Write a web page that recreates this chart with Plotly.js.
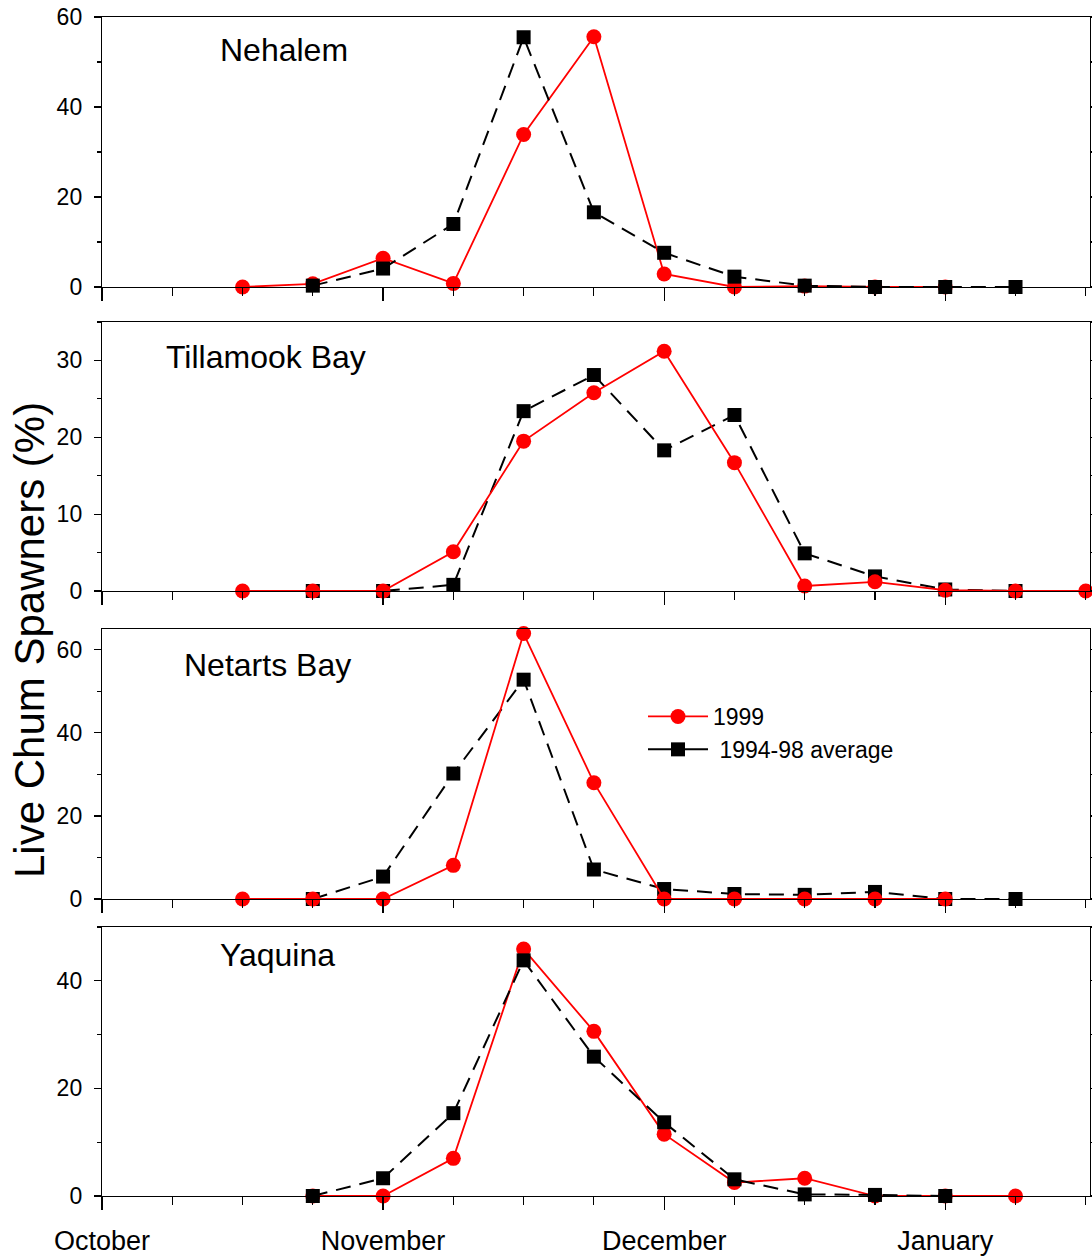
<!DOCTYPE html>
<html>
<head>
<meta charset="utf-8">
<script src="https://cdn.plot.ly/plotly-3.0.1.min.js"></script>
<style>html,body{margin:0;padding:0;background:#fff;}#chart{width:1092px;height:1260px;}</style>
</head>
<body>
<div id="chart"></div>
<script>
// Week index: 0 = 1 October, 4 = 1 November, 8 = 1 December, 12 = 1 January
const monthTicks = [0, 4, 8, 12];
const monthLabels = ["October", "November", "December", "January"];
const seriesNames = ["1999", "\u00a01994-98 average"];
const panelNames = ["Nehalem", "Tillamook Bay", "Netarts Bay", "Yaquina"];

const nehalemX1999 = [2, 3, 4, 5, 6, 7, 8, 9, 10, 11, 12];
const nehalem1999  = [0, 0.7, 6.4, 0.8, 33.9, 55.6, 2.9, 0, 0.2, 0, 0];
const nehalemXAvg  = [3, 4, 5, 6, 7, 8, 9, 10, 11, 12, 13];
const nehalemAvg   = [0.3, 4.1, 14.0, 55.5, 16.6, 7.6, 2.3, 0.3, 0, 0, 0];

const tillamookX1999 = [2, 3, 4, 5, 6, 7, 8, 9, 10, 11, 12, 13, 14];
const tillamook1999  = [0, 0, 0, 5.1, 19.5, 25.8, 31.2, 16.7, 0.65, 1.2, 0.1, 0, 0];
const tillamookXAvg  = [3, 4, 5, 6, 7, 8, 9, 10, 11, 12, 13];
const tillamookAvg   = [0, 0, 0.8, 23.4, 28.1, 18.3, 22.9, 4.9, 1.9, 0.2, 0];

const netartsX1999 = [2, 3, 4, 5, 6, 7, 8, 9, 10, 11, 12];
const netarts1999  = [0, 0, 0, 8.1, 63.9, 28.0, 0, 0, 0, 0, 0];
const netartsXAvg  = [3, 4, 5, 6, 7, 8, 9, 10, 11, 12, 13];
const netartsAvg   = [0, 5.4, 30.2, 52.8, 7.1, 2.4, 1.2, 1.0, 1.7, 0, 0];

const yaquinaX1999 = [3, 4, 5, 6, 7, 8, 9, 10, 11, 12, 13];
const yaquina1999  = [0, 0, 7.0, 45.9, 30.6, 11.5, 2.5, 3.3, 0, 0, 0];
const yaquinaXAvg  = [3, 4, 5, 6, 7, 8, 9, 10, 11, 12];
const yaquinaAvg   = [0, 3.3, 15.4, 43.8, 25.9, 13.7, 3.1, 0.3, 0.2, 0];

const yRanges = [[0, 60], [0, 35], [0, 65], [0, 50]];
const yDticks = [20, 10, 20, 20];
const yMinor  = [10, 5, 10, 10];

const FONT = "Liberation Sans, Arial, Helvetica, sans-serif";
const W = 1092, H = 1260, L = 102, R = 1090;
const pxTop = [17, 322, 629, 927];
const pxBot = [287, 591, 899, 1196];

function redTrace(x, y, i) {
  return {x: x, y: y, xaxis: 'x' + (i + 1), yaxis: 'y' + (i + 1), type: 'scatter', mode: 'lines+markers',
    name: seriesNames[0], showlegend: false, cliponaxis: false,
    line: {color: '#ff0000', width: 1.8},
    marker: {symbol: 'circle', size: 15, color: '#ff0000'}};
}
function blackTrace(x, y, i) {
  return {x: x, y: y, xaxis: 'x' + (i + 1), yaxis: 'y' + (i + 1), type: 'scatter', mode: 'lines+markers',
    name: seriesNames[1], showlegend: false, cliponaxis: false,
    line: {color: '#000000', width: 2, dash: '15px,9px'},
    marker: {symbol: 'square', size: 14, color: '#000000'}};
}

const traces = [
  redTrace(nehalemX1999, nehalem1999, 0), blackTrace(nehalemXAvg, nehalemAvg, 0),
  blackTrace(tillamookXAvg, tillamookAvg, 1), redTrace(tillamookX1999, tillamook1999, 1),
  blackTrace(netartsXAvg, netartsAvg, 2), redTrace(netartsX1999, netarts1999, 2),
  redTrace(yaquinaX1999, yaquina1999, 3), blackTrace(yaquinaXAvg, yaquinaAvg, 3),
  // legend entries (solid swatches as in the original legend)
  {x: [null], y: [null], xaxis: 'x3', yaxis: 'y3', type: 'scatter', mode: 'lines+markers', name: seriesNames[0],
    line: {color: '#ff0000', width: 1.8}, marker: {symbol: 'circle', size: 15, color: '#ff0000'}},
  {x: [null], y: [null], xaxis: 'x3', yaxis: 'y3', type: 'scatter', mode: 'lines+markers', name: seriesNames[1],
    line: {color: '#000000', width: 2}, marker: {symbol: 'square', size: 14, color: '#000000'}}
];

const layout = {
  width: W, height: H,
  margin: {l: L, r: W - R, t: 0, b: 0},
  paper_bgcolor: '#ffffff', plot_bgcolor: '#ffffff',
  font: {family: FONT, color: '#000000', size: 23},
  showlegend: true,
  legend: {x: (643 - L) / (R - L), y: 1 - 695 / H, xanchor: 'left', yanchor: 'top',
    bgcolor: 'rgba(0,0,0,0)', font: {size: 23, family: FONT}, itemwidth: 60, tracegroupgap: 0},
  annotations: [],
};

const titleCx = [284, 266, 267, 277];
const titleCy = [50, 357, 665, 955];

for (let i = 0; i < 4; i++) {
  const n = i + 1;
  layout['xaxis' + n] = {
    domain: [0, 1], anchor: 'y' + n, range: [0, 14.06],
    tickmode: 'array', tickvals: monthTicks, ticktext: monthLabels,
    showticklabels: i === 3, tickfont: {size: 27, family: FONT},
    ticks: 'outside', ticklen: 13, tickwidth: 1.2, tickcolor: '#000',
    minor: {dtick: 1, tick0: 0, ticks: 'outside', ticklen: 8, tickwidth: 1.2, tickcolor: '#000', showgrid: false},
    showline: true, linecolor: '#000', linewidth: 1.2, mirror: true,
    showgrid: false, zeroline: false, ticklabelstandoff: 7, fixedrange: true
  };
  layout['yaxis' + n] = {
    domain: [1 - pxBot[i] / H, 1 - pxTop[i] / H], anchor: 'x' + n,
    range: yRanges[i], tickmode: 'linear', tick0: 0, dtick: yDticks[i],
    ticks: 'outside', ticklen: 7, tickwidth: 1.2, tickcolor: '#000',
    minor: {dtick: yMinor[i], tick0: 0, ticks: 'outside', ticklen: 4, tickwidth: 1.2, tickcolor: '#000', showgrid: false},
    tickfont: {size: 23, family: FONT},
    showline: true, linecolor: '#000', linewidth: 1.2, mirror: 'ticks',
    showgrid: false, zeroline: false, ticklabelstandoff: 7, fixedrange: true
  };
  layout.annotations.push({
    text: panelNames[i], xref: 'paper', yref: 'paper',
    x: (titleCx[i] - L) / (R - L), y: 1 - titleCy[i] / H,
    xanchor: 'center', yanchor: 'middle', showarrow: false,
    font: {size: 32, family: FONT, color: '#000'}
  });
}
layout.annotations.push({
  text: 'Live Chum Spawners (%)', xref: 'paper', yref: 'paper',
  x: (29 - L) / (R - L), y: 1 - 640 / H, xanchor: 'center', yanchor: 'middle',
  textangle: -90, showarrow: false, font: {size: 42, family: FONT, color: '#000'}
});

Plotly.newPlot('chart', traces, layout, {displayModeBar: false, staticPlot: true});
</script>
</body>
</html>
